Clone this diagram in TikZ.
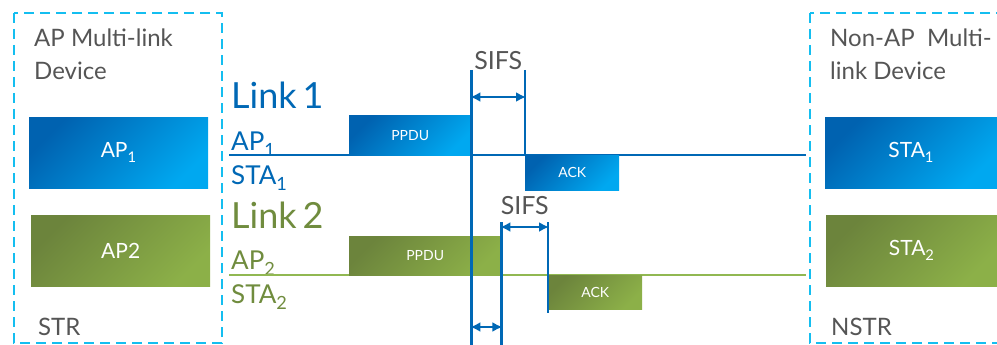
\documentclass[tikz,border=0pt]{standalone}
\usepackage{fontspec}
\setmainfont{Lato}
\usetikzlibrary{arrows.meta,positioning,calc}
\definecolor{mlddash}{RGB}{20,190,240}
\definecolor{linkblue}{RGB}{0,104,181}
\definecolor{blueD}{RGB}{0,98,176}
\definecolor{blueL}{RGB}{0,168,240}
\definecolor{greenD}{RGB}{108,132,60}
\definecolor{greenL}{RGB}{140,176,72}
\definecolor{linkgreen}{RGB}{112,140,62}
\definecolor{lightgreen}{RGB}{145,184,82}
\definecolor{txtgray}{RGB}{85,85,85}
\newcommand{\lowsub}[1]{\textsubscript{\raisebox{-0.3ex}{#1}}}

\begin{document}
\begin{tikzpicture}[x=1pt, y=-1pt,
          mld/.style={draw=mlddash, line width=2.6pt, dash pattern=on 10pt off 6pt},
          devtxt/.style={anchor=base west, inner sep=0pt, text=txtgray,
                         font=\fontsize{24}{33}\selectfont, align=left},
          bluebox/.style={top color=blueD, bottom color=blueL, shading angle=45,
                          text=white, anchor=north west, inner sep=0pt,
                          font=\fontsize{21}{24}\selectfont},
          greenbox/.style={top color=greenD, bottom color=greenL, shading angle=45,
                           text=white, anchor=north west, inner sep=0pt,
                           font=\fontsize{21}{24}\selectfont},
          linktxt/.style={anchor=base west, inner sep=0pt, font=\fontsize{36}{40}\selectfont},
          rowtxt/.style={anchor=base west, inner sep=0pt, font=\fontsize{26}{30}\selectfont},
          frame/.style={anchor=north west, inner sep=0pt, text=white,
                        font=\fontsize{14}{16}\selectfont},
          sifs/.style={anchor=base, inner sep=0pt, text=txtgray,
                       font=\fontsize{25}{28}\selectfont},
          sifsline/.style={draw=linkblue, line width=2.8pt},
          gap/.style={{Latex[length=10pt,width=10pt]}-{Latex[length=10pt,width=10pt]},
                      draw=linkblue, line width=2.8pt, shorten <=-1pt, shorten >=-1pt}
        ]
          \useasboundingbox (0,0) rectangle (997,345);
          % multi-link devices
          \draw[mld] (14,13) rectangle (222,343);
          \draw[mld] (810,13) rectangle (1010,343);
          \node[devtxt] (apmld) at (34,80) {AP Multi-link\\Device};
          \node[devtxt] (stamld) at (830,80) {Non-AP\ \ Multi-\\link Device};
          \node[devtxt] (str) at (38,335) {STR};
          \node[devtxt] (nstr) at (831,335) {NSTR};
          \node[bluebox, minimum width=179pt, minimum height=71pt] (ap1) at (29,117) {AP\lowsub{1}};
          \node[greenbox, minimum width=179pt, minimum height=71pt] (ap2) at (31,215) {AP2};
          \node[bluebox, minimum width=172pt, minimum height=71pt] (sta1) at (825,117) {STA\lowsub{1}};
          \node[greenbox, minimum width=171pt, minimum height=71pt] (sta2) at (826,215) {STA\lowsub{2}};
          % link 1
          \node[linktxt, text=linkblue] (link1) at (231,109) {Link\,1};
          \node[rowtxt, text=linkblue] (ap1row) at (231,150) {AP\lowsub{1}};
          \node[rowtxt, text=linkblue] (sta1row) at (231,184) {STA\lowsub{1}};
          \coordinate (l1a) at (229,155);
          \coordinate (l1b) at (806,155);
          \draw[linkblue, line width=2.8pt] (l1a) -- (l1b);
          \node[bluebox, frame, minimum width=122pt, minimum height=40pt] (ppdu1) at (349,115) {PPDU};
          \node[bluebox, frame, minimum width=94pt, minimum height=35pt] (ack1) at (525,155) {ACK};
          % link 2
          \node[linktxt, text=linkgreen] (link2) at (231,228) {Link\,2};
          \node[rowtxt, text=linkgreen] (ap2row) at (231,269) {AP\lowsub{2}};
          \node[rowtxt, text=linkgreen] (sta2row) at (231,303) {STA\lowsub{2}};
          \coordinate (l2a) at (229,275);
          \coordinate (l2b) at (806,275);
          \draw[lightgreen, line width=2.8pt] (l2a) -- (l2b);
          \node[greenbox, frame, minimum width=152pt, minimum height=39pt] (ppdu2) at (349,236) {PPDU};
          \node[greenbox, frame, minimum width=94pt, minimum height=34pt] (ack2) at (548,275) {ACK};
          % SIFS markers
          \coordinate (s1top) at (ppdu1.north east |- 0,70);
          \coordinate (s1bot) at (ppdu1.north east |- 0,345);
          \coordinate (e1top) at (ack1.north west |- 0,70);
          \coordinate (s2top) at (ppdu2.north east |- 0,222);
          \coordinate (s2bot) at (ppdu2.north east |- 0,345);
          \coordinate (e2top) at (ack2.north west |- 0,222);
          \coordinate (e2bot) at (ack2.north west |- 0,313);
          \draw[sifsline] (s1top) -- (s1bot);
          \draw[sifsline] (e1top) -- (ack1.north west);
          \draw[sifsline] (s2top) -- (s2bot);
          \draw[sifsline] (e2top) -- (e2bot);
          \draw[gap] ($(s1top)+(0,27)$) -- ($(e1top)+(0,27)$);
          \draw[gap] ($(s2top)+(0,5)$) -- ($(e2top)+(0,5)$);
          \draw[gap] ($(s1bot)+(0,-18)$) -- ($(s2bot)+(0,-18)$);
          \node[sifs] (sifs1) at ($(s1top)!0.5!(e1top)$) {SIFS};
          \node[sifs] (sifs2) at ($(s2top)!0.5!(e2top)+(0,-8)$) {SIFS};
        \end{tikzpicture}
\end{document}
